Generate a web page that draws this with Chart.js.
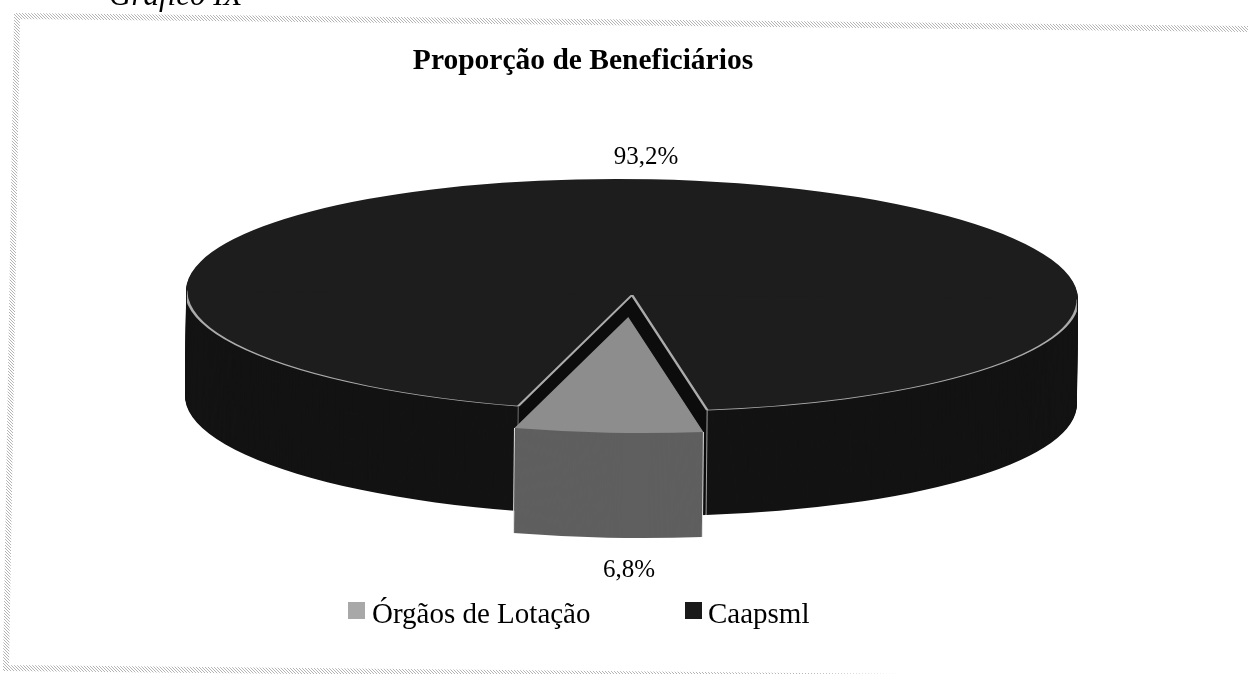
<!DOCTYPE html>
<html>
<head>
<meta charset="utf-8">
<script src="https://cdn.jsdelivr.net/npm/chart.js@4/dist/chart.umd.min.js"></script>
<style>
html,body{margin:0;padding:0;background:#fff;overflow:hidden}
canvas{display:block}
</style>
</head>
<body>
<canvas id="c" width="1248" height="674"></canvas>
<script>
const categories = ['Órgãos de Lotação', 'Caapsml'];
const values = [6.8, 93.2];
const valueLabels = ['6,8%', '93,2%'];
const chartTitle = 'Proporção de Beneficiários';
const captionText = 'Gráfico IX';
const topColors = ['#8d8d8d', '#1d1d1d'];
const sideColors = ['#5f5f5f', '#131313'];
const legendColors = ['#a8a8a8', '#1a1a1a'];

const SERIF = '"Liberation Serif", "Times New Roman", serif';
const CX = 632, CY = 295, RX = 446, RY = 116, DEPTH = 105, EXPLODE = 0.19, SKEW = 0.01;

function tile() {
  const t = document.createElement('canvas');
  t.width = t.height = 3;
  const g = t.getContext('2d');
  g.fillStyle = '#fff'; g.fillRect(0, 0, 3, 3);
  g.fillStyle = '#b4b4b4';
  g.fillRect(0, 0, 1, 1); g.fillRect(1, 1, 1, 1); g.fillRect(2, 2, 1, 1);
  return t;
}

const pie3d = {
  id: 'pie3d',
  beforeDraw(chart) {
    const ctx = chart.ctx;
    ctx.save();
    ctx.strokeStyle = ctx.createPattern(tile(), 'repeat');
    ctx.lineWidth = 6;
    ctx.beginPath();
    ctx.moveTo(1250, 29); ctx.lineTo(17, 16); ctx.lineTo(6, 668); ctx.lineTo(1000, 678);
    ctx.stroke();
    ctx.fillStyle = '#000';
    ctx.font = 'italic 31px ' + SERIF;
    ctx.textAlign = 'left';
    ctx.textBaseline = 'alphabetic';
    ctx.fillText(captionText, 109, 5);
    ctx.restore();
  },
  beforeDatasetsDraw(chart) {
    const ctx = chart.ctx;
    const arcs = chart.getDatasetMeta(0).data;
    const R = arcs[0].outerRadius, ox = arcs[0].x, oy = arcs[0].y;
    const sx = RX / R, sy = RY / R;
    const paint = (arc, color, bw, bc, dx, dy) => {
      const saved = arc.options;
      arc.options = Object.assign({}, saved, {
        backgroundColor: color, borderWidth: bw || 0, borderColor: bc || color,
        borderAlign: 'center', offset: 0, spacing: 0
      });
      ctx.save();
      ctx.translate(CX, CY + dy);
      ctx.scale(sx, sy);
      ctx.translate(-ox + dx, -oy);
      arc.draw(ctx);
      ctx.restore();
      arc.options = saved;
    };
    const [slice, main] = arcs;
    ctx.save();
    ctx.translate(CX, CY); ctx.rotate(SKEW); ctx.translate(-CX, -CY);
    // main body, with the dark walls of the opening left by the slice
    for (let k = DEPTH; k > 0; k--) {
      paint(main, sideColors[1], 0, null, 0, k);
      paint(slice, '#0c0c0c', 0, null, 0, k);
    }
    paint(main, topColors[1], 0, null, 0, 0);
    ctx.save();
    ctx.beginPath(); ctx.rect(187, CY, 890, 400); ctx.clip();
    paint(main, topColors[1], 1.9, '#ababab', 0, 0);
    ctx.restore();
    // vertical edges of the opening
    const pt = (a, ex, ey) => [CX + Math.cos(a) * RX + ex, CY + Math.sin(a) * RY + ey];
    const vline = (p, col) => {
      ctx.beginPath(); ctx.moveTo(p[0], p[1]); ctx.lineTo(p[0], p[1] + DEPTH);
      ctx.strokeStyle = col; ctx.lineWidth = 1; ctx.stroke();
    };
    vline(pt(slice.startAngle, 0, 0), '#a0a0a0');
    vline(pt(slice.endAngle, 0, 0), '#707070');
    // exploded slice
    const mid = (slice.startAngle + slice.endAngle) / 2;
    const ex = Math.cos(mid) * EXPLODE * R, ey = Math.sin(mid) * EXPLODE * R;
    for (let k = DEPTH; k > 0; k--) paint(slice, sideColors[0], 0, null, ex, k + ey * sy);
    paint(slice, topColors[0], 0, null, ex, ey * sy);
    const ex2 = ex * sx, ey2 = ey * sy;
    vline(pt(slice.startAngle, ex2, ey2), '#e4e4e4');
    vline(pt(slice.endAngle, ex2, ey2), '#e4e4e4');
    ctx.restore();

    // value labels
    ctx.save();
    ctx.fillStyle = '#000';
    ctx.font = '25px ' + SERIF;
    ctx.textAlign = 'center';
    ctx.textBaseline = 'middle';
    ctx.fillText(valueLabels[1], 646, 157);
    ctx.fillText(valueLabels[0], 629, 570);
    ctx.restore();

    // legend
    ctx.save();
    ctx.font = '29px ' + SERIF;
    ctx.textAlign = 'left';
    ctx.textBaseline = 'alphabetic';
    const boxX = [348, 685], textX = [372, 708];
    categories.forEach((name, i) => {
      ctx.fillStyle = legendColors[i];
      ctx.fillRect(boxX[i], 602, 17, 17);
      ctx.fillStyle = '#000';
      ctx.fillText(name, textX[i], 623);
    });
    ctx.restore();
    return false;
  }
};

new Chart(document.getElementById('c'), {
  type: 'pie',
  plugins: [pie3d],
  data: {
    labels: categories,
    datasets: [{ data: values, backgroundColor: topColors, borderWidth: 0 }]
  },
  options: {
    responsive: false,
    animation: false,
    rotation: 170.15,
    layout: { padding: { top: 30, right: 82, left: 0, bottom: 0 } },
    plugins: {
      legend: { display: false },
      tooltip: { enabled: false },
      title: {
        display: true,
        text: chartTitle,
        color: '#000',
        font: { family: SERIF, size: 29.5, weight: 'bold' },
        padding: { top: 14, bottom: 10 }
      }
    }
  }
});
</script>
</body>
</html>
